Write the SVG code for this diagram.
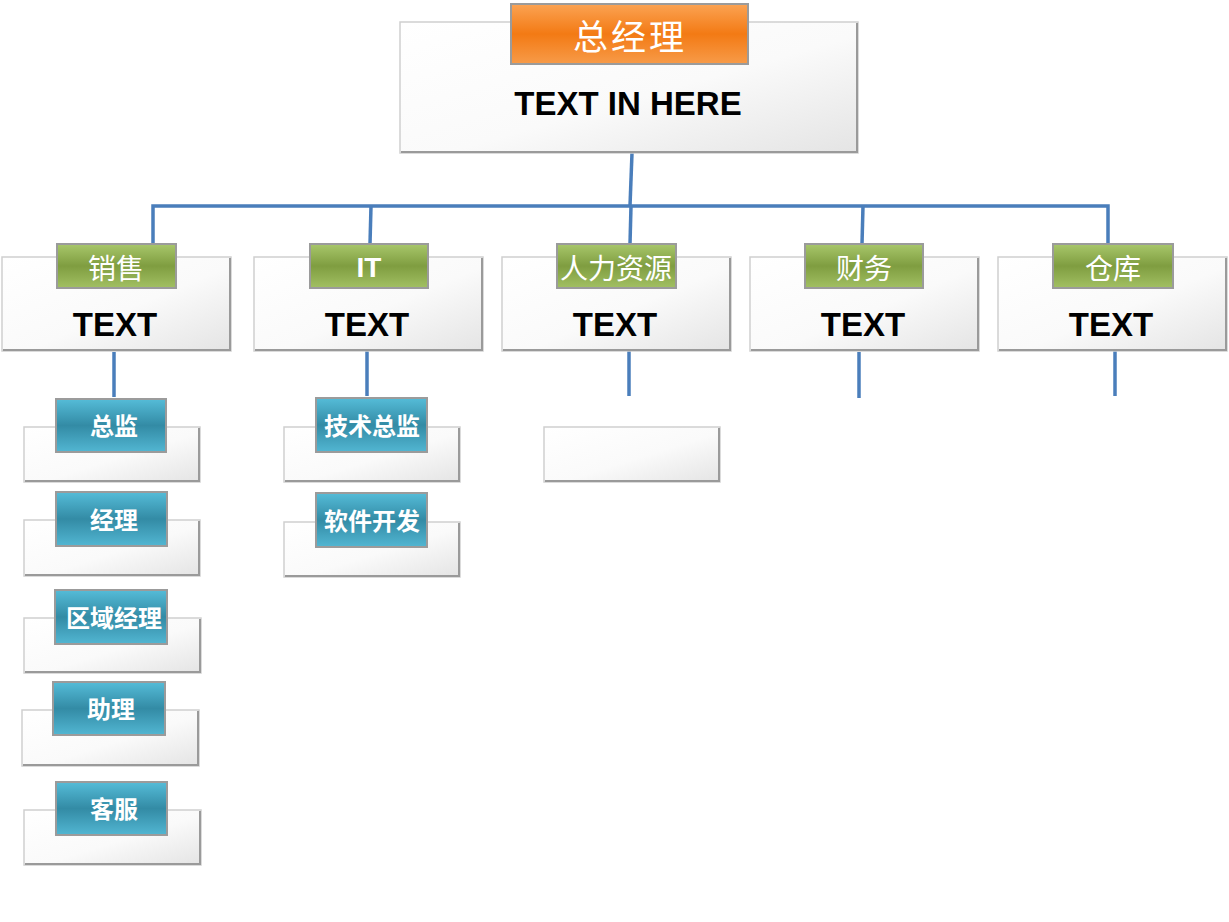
<svg xmlns="http://www.w3.org/2000/svg" width="1229" height="922" viewBox="0 0 1229 922">
<defs>
<linearGradient id="gBox" x1="0" y1="0" x2="1" y2="1">
<stop offset="0" stop-color="#ffffff"/>
<stop offset="0.55" stop-color="#fafafa"/>
<stop offset="1" stop-color="#e4e4e4"/>
</linearGradient>
<linearGradient id="gOrange" x1="0" y1="0" x2="0" y2="1">
<stop offset="0" stop-color="#fba353"/>
<stop offset="0.5" stop-color="#f37a14"/>
<stop offset="1" stop-color="#f79b49"/>
</linearGradient>
<linearGradient id="gGreen" x1="0" y1="0" x2="0" y2="1">
<stop offset="0" stop-color="#a8c76b"/>
<stop offset="0.5" stop-color="#7f9d40"/>
<stop offset="1" stop-color="#a2c063"/>
</linearGradient>
<linearGradient id="gTeal" x1="0" y1="0" x2="0" y2="1">
<stop offset="0" stop-color="#55bcd8"/>
<stop offset="0.5" stop-color="#338ba5"/>
<stop offset="1" stop-color="#52b6d2"/>
</linearGradient>
</defs>
<style>
.box{fill:url(#gBox);stroke:#cfcfcf;stroke-width:1.5}
.bev{fill:none;stroke:#9a9a9a;stroke-width:2}
.lab{stroke:#9b9b9b;stroke-width:2}
.or{fill:url(#gOrange)}
.gr{fill:url(#gGreen)}
.te{fill:url(#gTeal)}
.lt{fill:#ffffff;text-anchor:middle;font-family:"Liberation Sans","Noto Sans CJK SC",sans-serif}
.l2{font-size:28px}
.l3{font-size:24px;font-weight:bold}
.bt{fill:#000000;text-anchor:middle;font-family:"Liberation Sans","Noto Sans CJK SC",sans-serif;font-weight:bold;font-size:33px}
.con{fill:none;stroke:#4a7ebb;stroke-width:3.5}
</style>

<g id="connectors">
<path class="con" d="M632 153 L630 206"/>
<path class="con" d="M153 243 L153 206 L1108 206 L1108 243"/>
<path class="con" d="M371 206 L370 244"/>
<path class="con" d="M631 206 L630 244"/>
<path class="con" d="M863 206 L862 244"/>
<path class="con" d="M114 352 L114 397"/>
<path class="con" d="M367 350 L367 396"/>
<path class="con" d="M629 350 L629 396"/>
<path class="con" d="M859 352 L859 398"/>
<path class="con" d="M1115 350 L1115 396"/>
</g>

<g id="node-ceo">
<rect class="box" x="400" y="22" width="458" height="131"/>
<path class="bev" d="M857 23 L857 152 L401 152"/>
<rect class="lab or" x="511" y="4" width="237" height="60"/>
<text class="lt" x="630" y="50" font-size="35" letter-spacing="3">总经理</text>
<text class="bt" x="628" y="115">TEXT IN HERE</text>
</g>

<g id="node-sales">
<rect class="box" x="2" y="257" width="229" height="94"/>
<path class="bev" d="M230 258 L230 350 L3 350"/>
<rect class="lab gr" x="57" y="244" width="119" height="44"/>
<text class="lt l2" x="116" y="279">销售</text>
<text class="bt" x="115" y="336">TEXT</text>
</g>

<g id="node-it">
<rect class="box" x="254" y="257" width="229" height="94"/>
<path class="bev" d="M482 258 L482 350 L255 350"/>
<rect class="lab gr" x="310" y="244" width="118" height="44"/>
<text class="lt l2" x="369" y="277" font-weight="bold">IT</text>
<text class="bt" x="367" y="336">TEXT</text>
</g>

<g id="node-hr">
<rect class="box" x="502" y="257" width="229" height="94"/>
<path class="bev" d="M730 258 L730 350 L503 350"/>
<rect class="lab gr" x="557" y="244" width="119" height="44"/>
<text class="lt l2" x="616" y="279">人力资源</text>
<text class="bt" x="615" y="336">TEXT</text>
</g>

<g id="node-finance">
<rect class="box" x="750" y="257" width="229" height="94"/>
<path class="bev" d="M978 258 L978 350 L751 350"/>
<rect class="lab gr" x="805" y="244" width="118" height="44"/>
<text class="lt l2" x="864" y="279">财务</text>
<text class="bt" x="863" y="336">TEXT</text>
</g>

<g id="node-warehouse">
<rect class="box" x="998" y="257" width="229" height="94"/>
<path class="bev" d="M1226 258 L1226 350 L999 350"/>
<rect class="lab gr" x="1053" y="244" width="120" height="44"/>
<text class="lt l2" x="1113" y="279">仓库</text>
<text class="bt" x="1111" y="336">TEXT</text>
</g>

<g id="node-director">
<rect class="box" x="24" y="427" width="176" height="55"/>
<path class="bev" d="M199 428 L199 481 L25 481"/>
<rect class="lab te" x="56" y="399" width="110" height="53"/>
<text class="lt l3" x="114" y="435">总监</text>
</g>

<g id="node-manager">
<rect class="box" x="24" y="520" width="176" height="56"/>
<path class="bev" d="M199 521 L199 575 L25 575"/>
<rect class="lab te" x="56" y="492" width="111" height="54"/>
<text class="lt l3" x="114" y="529">经理</text>
</g>

<g id="node-regional">
<rect class="box" x="24" y="618" width="177" height="55"/>
<path class="bev" d="M200 619 L200 672 L25 672"/>
<rect class="lab te" x="55" y="590" width="112" height="54"/>
<text class="lt l3" x="114" y="627">区域经理</text>
</g>

<g id="node-assistant">
<rect class="box" x="22" y="710" width="177" height="56"/>
<path class="bev" d="M198 711 L198 765 L23 765"/>
<rect class="lab te" x="53" y="682" width="112" height="53"/>
<text class="lt l3" x="111" y="718">助理</text>
</g>

<g id="node-service">
<rect class="box" x="24" y="810" width="177" height="55"/>
<path class="bev" d="M200 811 L200 864 L25 864"/>
<rect class="lab te" x="56" y="782" width="111" height="53"/>
<text class="lt l3" x="114" y="818">客服</text>
</g>

<g id="node-techdirector">
<rect class="box" x="284" y="427" width="176" height="55"/>
<path class="bev" d="M459 428 L459 481 L285 481"/>
<rect class="lab te" x="316" y="398" width="111" height="54"/>
<text class="lt l3" x="372" y="435">技术总监</text>
</g>

<g id="node-software">
<rect class="box" x="284" y="522" width="176" height="55"/>
<path class="bev" d="M459 523 L459 576 L285 576"/>
<rect class="lab te" x="316" y="493" width="111" height="54"/>
<text class="lt l3" x="372" y="530">软件开发</text>
</g>

<g id="node-hr-sub">
<rect class="box" x="544" y="427" width="176" height="55"/>
<path class="bev" d="M719 428 L719 481 L545 481"/>
</g>
</svg>
